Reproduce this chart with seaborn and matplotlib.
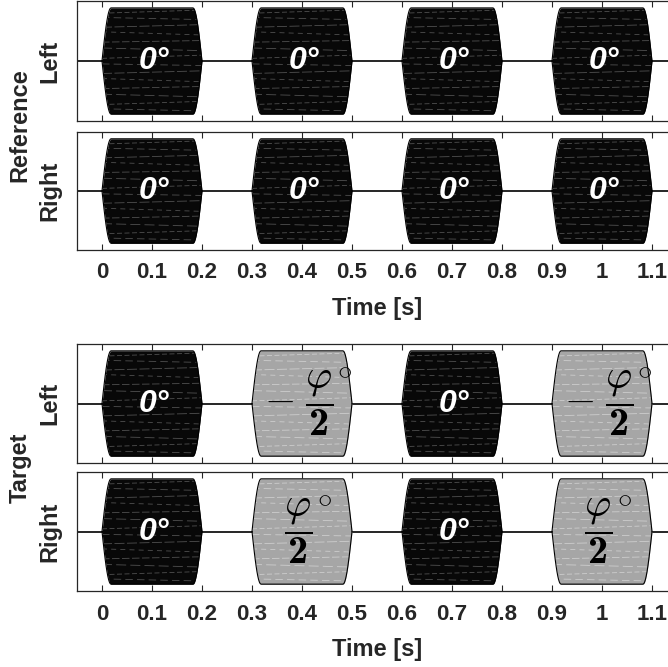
import numpy as np
import pandas as pd
import seaborn as sns
import matplotlib.pyplot as plt

# burst timing (s)
burst_onsets = [0.0, 0.3, 0.6, 0.9]
burst_length = 0.2
ramp_length = 0.018
amplitude = 1.0

# panel contents
row_names = ["Left", "Right", "Left", "Right"]
group_names = ["Reference", "Target"]
neg_half = r"$-\;\dfrac{\varphi}{\mathbf{2}}$"
pos_half = r"$\dfrac{\varphi}{\mathbf{2}}$"
phase_labels = [
    ["0°", "0°", "0°", "0°"],
    ["0°", "0°", "0°", "0°"],
    ["0°", neg_half, "0°", neg_half],
    ["0°", pos_half, "0°", pos_half],
]
shifted = [
    [False, False, False, False],
    [False, False, False, False],
    [False, True, False, True],
    [False, True, False, True],
]
xticks = [0, 0.1, 0.2, 0.3, 0.4, 0.5, 0.6, 0.7, 0.8, 0.9, 1.0, 1.1]
xtick_labels = ["0", "0.1", "0.2", "0.3", "0.4", "0.5", "0.6", "0.7", "0.8", "0.9", "1", "1.1"]

# texture streaks inside the bursts (level, tilt)
streak_levels = [0.93, 0.8, 0.66, 0.52, 0.37, 0.22, 0.08, -0.07, -0.21, -0.36, -0.5, -0.65, -0.79, -0.92]
streak_tilts = [0.03, -0.02, 0.025, -0.03, 0.015, -0.025, 0.03, -0.015, 0.025, -0.03, 0.02, -0.025, 0.03, -0.02]


def envelope(onset):
    t_ramp = np.linspace(0, ramp_length, 12)
    up = amplitude * np.sin(np.pi / 2 * t_ramp / ramp_length)
    t = np.concatenate([onset + t_ramp, onset + burst_length - t_ramp[::-1]])
    a = np.concatenate([up, up[::-1]])
    return pd.DataFrame({"t": t, "upper": a, "lower": -a})


sns.set_theme(style="white")
plt.rcParams["font.family"] = ["Liberation Sans", "DejaVu Sans"]
plt.rcParams["mathtext.fontset"] = "custom"
plt.rcParams["mathtext.rm"] = "cmr10"
plt.rcParams["mathtext.it"] = "cmmi10"
plt.rcParams["mathtext.bf"] = "cmb10"

W, H = 668, 667
fig = plt.figure(figsize=(W / 100, H / 100), dpi=100)
panel_px = [(1, 121), (132, 250), (344, 463), (472, 591)]
axis_col = "#262626"

for i, (top, bot) in enumerate(panel_px):
    ax = fig.add_axes([77 / W, 1 - bot / H, 600 / W, (bot - top) / H])
    ax.set_xlim(-0.05, 1.15)
    ax.set_ylim(-1.13, 1.13)

    base = pd.DataFrame({"t": [-0.05, 1.15], "v": [0, 0]})
    sns.lineplot(data=base, x="t", y="v", color="black", lw=1.2, ax=ax, zorder=1)

    for j, onset in enumerate(burst_onsets):
        env = envelope(onset)
        face = "#a6a6a6" if shifted[i][j] else "#080808"
        streak = "#dedede" if shifted[i][j] else "#6e6e6e"
        poly = ax.fill_between(env["t"], env["lower"], env["upper"], color=face, lw=0, zorder=2)
        for k, (lev, tilt) in enumerate(zip(streak_levels, streak_tilts)):
            ln, = ax.plot([onset, onset + burst_length], [lev - tilt, lev + tilt],
                          color=streak, lw=0.6, alpha=0.7, zorder=3,
                          dashes=(6 + k % 3 * 3, 3 + k % 2 * 2))
            ln.set_clip_path(poly.get_paths()[0], ax.transData)
        sns.lineplot(data=env, x="t", y="upper", color="black", lw=0.8, ax=ax,
                     estimator=None, sort=False, zorder=4)
        sns.lineplot(data=env, x="t", y="lower", color="black", lw=0.8, ax=ax,
                     estimator=None, sort=False, zorder=4)

        lab = phase_labels[i][j]
        if lab.startswith("$"):
            frac = ax.text(onset + 0.093, 0, lab, ha="center", va="center", fontsize=29,
                           color="black", zorder=5)
            ax.annotate(r"$\circ$", xy=(1, 1), xycoords=frac, xytext=(3, 9),
                        textcoords="offset points", ha="left", va="top",
                        fontsize=21, color="black", zorder=5)
        else:
            ax.text(onset + 0.104, 0, lab, ha="center", va="center", fontsize=23,
                    color="white", fontweight="bold", style="italic", zorder=5)

    ax.set_xticks(xticks)
    if i % 2 == 1:
        ax.set_xticklabels(xtick_labels, fontsize=16, fontweight="bold", color=axis_col)
        ax.set_xlabel("Time [s]", fontsize=17, fontweight="bold", color=axis_col, labelpad=10)
    else:
        ax.set_xticklabels([])
        ax.set_xlabel("")
    ax.set_ylabel("")
    ax.set_yticks([])
    ax.tick_params(axis="x", direction="in", top=True, bottom=True, length=4,
                   width=0.8, color=axis_col, pad=9)
    for s in ax.spines.values():
        s.set_color(axis_col)
        s.set_linewidth(0.9)

    fig.text(50 / W, 1 - (top + bot) / 2 / H, row_names[i], rotation=90, ha="center",
             va="center", fontsize=17, fontweight="bold", color=axis_col)

for g, (a, b) in enumerate([(0, 1), (2, 3)]):
    yc = (panel_px[a][0] + panel_px[b][1]) / 2
    fig.text(20 / W, 1 - yc / H, group_names[g], rotation=90, ha="center", va="center",
             fontsize=17, fontweight="bold", color=axis_col)

fig.savefig("out.png", dpi=100)
